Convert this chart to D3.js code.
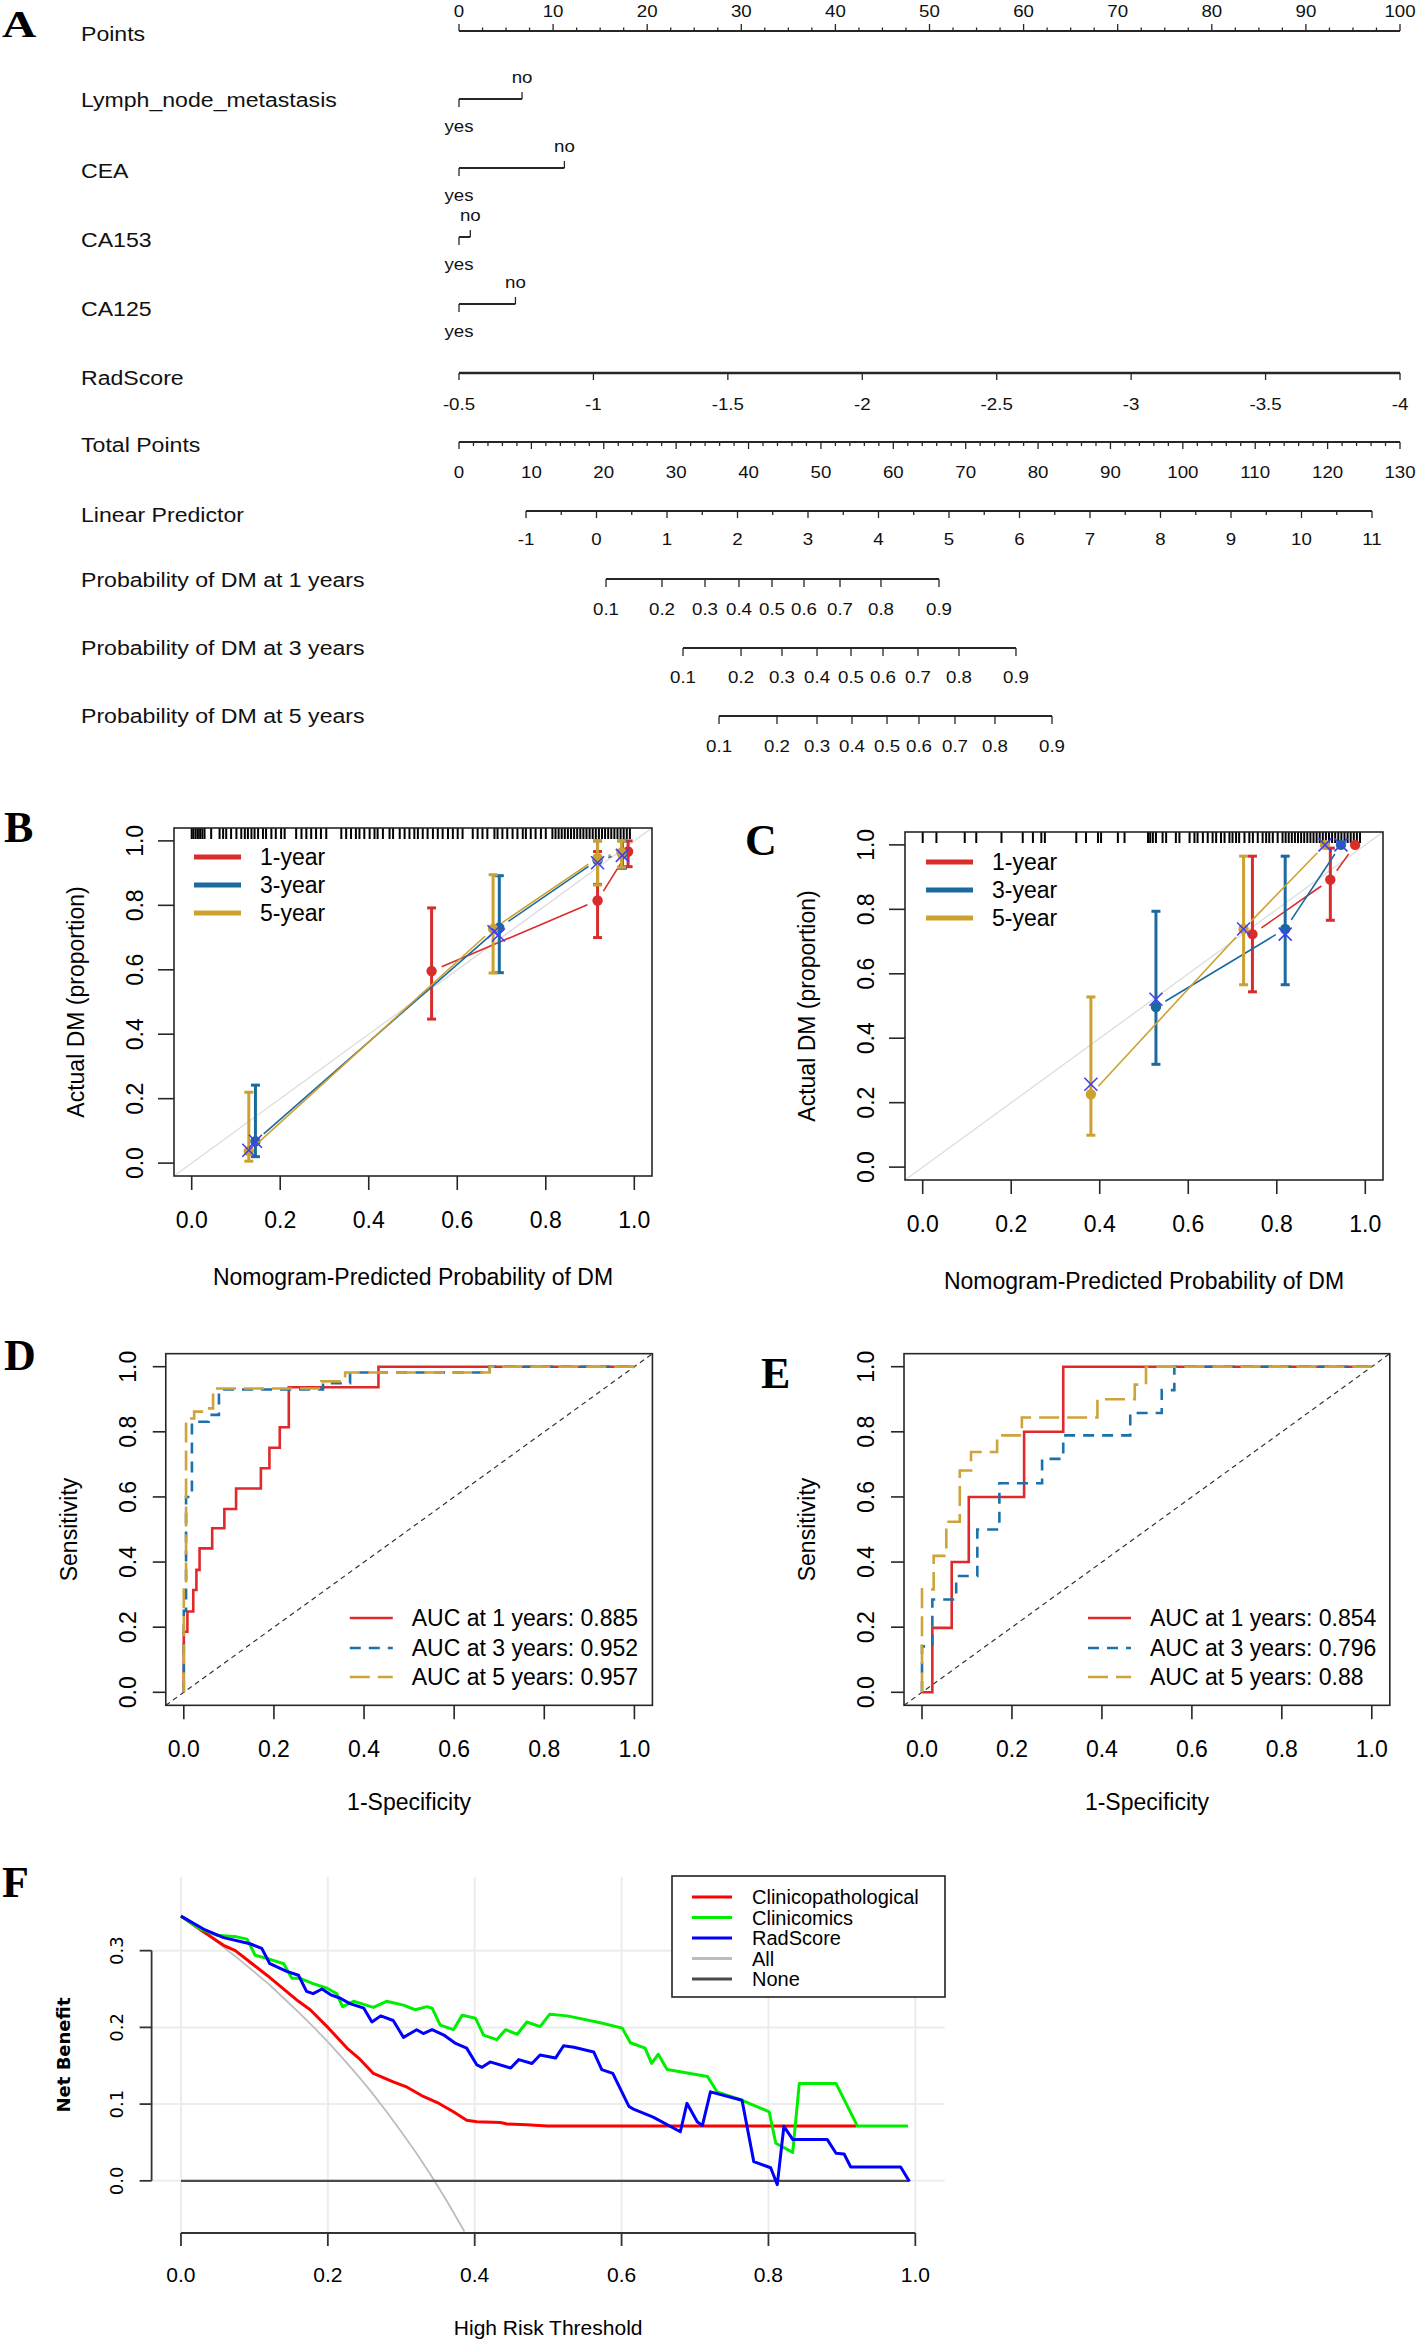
<!DOCTYPE html>
<html><head><meta charset="utf-8">
<script src="https://cdn.jsdelivr.net/npm/d3@7"></script>
<style>body{margin:0;background:#fff}svg{display:block}</style>
</head><body>
<svg id="fig" width="1416" height="2344"></svg>
<script>
// ===================== DATA =====================
// Panel A: nomogram
const nomoRowLabels = ["Points","Lymph_node_metastasis","CEA","CA153","CA125","RadScore","Total Points","Linear Predictor","Probability of DM at 1 years","Probability of DM at 3 years","Probability of DM at 5 years"];
const nomoCatVars = ["Lymph_node_metastasis","CEA","CA153","CA125"];
const nomoCatNoPoints = [6.7, 11.2, 1.2, 6.0];   // points for level "no" (level "yes" = 0)
const nomoLevels = ["yes","no"];
const pointsTicks = [0,10,20,30,40,50,60,70,80,90,100];
const radScoreTicks = [-0.5,-1,-1.5,-2,-2.5,-3,-3.5,-4];
const radScoreTickLabels = ["-0.5","-1","-1.5","-2","-2.5","-3","-3.5","-4"];
const totalPointsTicks = [0,10,20,30,40,50,60,70,80,90,100,110,120,130];
const lpTicks = [-1,0,1,2,3,4,5,6,7,8,9,10,11];
const probTicks = [0.1,0.2,0.3,0.4,0.5,0.6,0.7,0.8,0.9];
// linear-predictor position of each probability tick
const prob1yLP = [0.135,0.929,1.539,2.021,2.489,2.943,3.454,4.035,4.858];
const prob3yLP = [1.227,2.050,2.631,3.128,3.610,4.064,4.560,5.142,5.950];
const prob5yLP = [1.738,2.560,3.128,3.624,4.121,4.574,5.085,5.652,6.461];

// Panels B, C: calibration  rows = [predicted, observed, lower, upper]
const calLegend = ["1-year","3-year","5-year"];
const calB_1y = [[0.542,0.596,0.447,0.792],[0.917,0.815,0.700,0.967],[0.986,0.967,0.920,1.0]];
const calB_3y = [[0.144,0.068,0.020,0.242],[0.695,0.731,0.591,0.892],[0.917,0.940,0.865,1.0],[0.973,0.960,0.915,1.0]];
const calB_5y = [[0.129,0.037,0.006,0.220],[0.681,0.727,0.590,0.895],[0.917,0.947,0.863,1.0],[0.971,0.964,0.918,1.0]];
const calB_corrected = [[0.129,0.040],[0.144,0.068],[0.683,0.718],[0.693,0.708],[0.917,0.932],[0.973,0.955]];
const calB_rug = [0.0,0.004,0.009,0.014,0.019,0.024,0.029,0.044,0.063,0.071,0.078,0.089,0.101,0.112,0.12,0.127,0.135,0.142,0.150,0.161,0.168,0.180,0.190,0.202,0.21,0.236,0.248,0.259,0.270,0.281,0.292,0.304,0.338,0.349,0.36,0.371,0.379,0.390,0.402,0.413,0.42,0.432,0.447,0.455,0.47,0.481,0.492,0.503,0.511,0.522,0.533,0.545,0.556,0.567,0.579,0.590,0.601,0.612,0.635,0.646,0.657,0.668,0.684,0.691,0.702,0.713,0.725,0.736,0.748,0.755,0.766,0.777,0.789,0.800,0.815,0.822,0.829,0.836,0.843,0.850,0.857,0.864,0.871,0.878,0.885,0.892,0.899,0.906,0.913,0.920,0.927,0.934,0.941,0.948,0.955,0.962,0.969,0.976,0.983,0.990];

const calC_1y = [[0.745,0.723,0.544,0.965],[0.921,0.892,0.766,0.99],[0.977,1.0,null,null]];
const calC_3y = [[0.527,0.497,0.319,0.794],[0.819,0.739,0.566,0.965],[0.945,1.0,null,null]];
const calC_5y = [[0.380,0.226,0.099,0.528],[0.725,0.739,0.566,0.965],[0.909,1.0,null,null]];
const calC_corrected = [[0.380,0.257],[0.527,0.521],[0.725,0.739],[0.819,0.723],[0.909,1.0],[0.945,1.0]];
const calC_rug = [0.0,0.031,0.095,0.121,0.178,0.226,0.249,0.268,0.276,0.347,0.369,0.396,0.403,0.441,0.456,0.509,0.514,0.520,0.527,0.542,0.550,0.572,0.580,0.603,0.614,0.621,0.633,0.644,0.655,0.663,0.674,0.682,0.693,0.700,0.708,0.715,0.727,0.738,0.746,0.757,0.768,0.776,0.783,0.791,0.802,0.813,0.820,0.827,0.834,0.841,0.848,0.855,0.862,0.869,0.876,0.883,0.890,0.897,0.904,0.911,0.918,0.925,0.932,0.939,0.946,0.953,0.960,0.967,0.974,0.981,0.988];
const unitTicks = [0,0.2,0.4,0.6,0.8,1.0];
const unitTickLabels = ["0.0","0.2","0.4","0.6","0.8","1.0"];

// Panels D, E: time-dependent ROC (vertices [FPR, TPR], vertical-then-horizontal steps)
const rocD_labels = ["AUC at 1 years: 0.885","AUC at 3 years: 0.952","AUC at 5 years: 0.957"];
const rocD_1y = [[0,0],[0.008,0.186],[0.021,0.248],[0.028,0.314],[0.035,0.376],[0.063,0.442],[0.090,0.504],[0.116,0.563],[0.171,0.626],[0.190,0.688],[0.213,0.751],[0.233,0.814],[0.432,0.937],[1,1]];
const rocD_3y = [[0,0],[0.005,0.25],[0.018,0.60],[0.055,0.831],[0.078,0.852],[0.309,0.930],[0.369,0.949],[0.679,0.982],[1,1]];
const rocD_5y = [[0,0],[0.005,0.33],[0.023,0.841],[0.048,0.862],[0.065,0.872],[0.305,0.933],[0.358,0.955],[0.679,0.982],[1,1]];
const rocE_labels = ["AUC at 1 years: 0.854","AUC at 3 years: 0.796","AUC at 5 years: 0.88"];
const rocE_1y = [[0,0],[0.023,0],[0.066,0.198],[0.104,0.40],[0.227,0.60],[0.314,0.80],[1,1]];
const rocE_3y = [[0,0],[0.023,0.141],[0.076,0.285],[0.123,0.357],[0.172,0.50],[0.267,0.642],[0.314,0.717],[0.463,0.789],[0.533,0.858],[0.561,0.928],[1,1]];
const rocE_5y = [[0,0],[0.026,0.316],[0.054,0.419],[0.084,0.524],[0.109,0.681],[0.167,0.738],[0.222,0.789],[0.39,0.844],[0.473,0.90],[0.498,0.945],[1,1]];

// Panel F: decision curves
const dcaLegend = ["Clinicopathological","Clinicomics","RadScore","All","None"];
const dcaClin_t  = [0,0.027,0.058,0.074,0.117,0.160,0.176,0.201,0.226,0.242,0.262,0.289,0.308,0.330,0.349,0.371,0.389,0.403,0.435,0.444,0.471,0.499,0.92];
const dcaClin_nb = [0.345,0.327,0.307,0.300,0.268,0.234,0.223,0.199,0.173,0.160,0.140,0.129,0.122,0.110,0.102,0.090,0.079,0.077,0.076,0.074,0.073,0.0716,0.0716];
const dcaComb_t  = [0,0.027,0.049,0.076,0.090,0.101,0.117,0.140,0.151,0.162,0.180,0.199,0.212,0.220,0.235,0.249,0.262,0.280,0.303,0.319,0.335,0.342,0.353,0.371,0.383,0.401,0.412,0.430,0.442,0.458,0.471,0.489,0.502,0.526,0.571,0.601,0.612,0.632,0.641,0.650,0.662,0.717,0.730,0.764,0.801,0.810,0.833,0.842,0.892,0.921,0.99];
const dcaComb_nb = [0.345,0.328,0.320,0.318,0.315,0.294,0.290,0.283,0.264,0.264,0.257,0.251,0.244,0.227,0.234,0.230,0.226,0.234,0.229,0.223,0.227,0.225,0.203,0.197,0.216,0.212,0.190,0.184,0.197,0.191,0.207,0.201,0.217,0.215,0.206,0.199,0.180,0.173,0.153,0.165,0.145,0.136,0.116,0.105,0.090,0.049,0.037,0.127,0.127,0.0716,0.0716];
const dcaRad_t  = [0,0.033,0.058,0.094,0.110,0.121,0.144,0.160,0.171,0.180,0.192,0.205,0.217,0.230,0.249,0.260,0.272,0.289,0.303,0.321,0.330,0.342,0.358,0.374,0.389,0.403,0.410,0.421,0.449,0.460,0.478,0.489,0.510,0.521,0.535,0.562,0.573,0.588,0.610,0.617,0.643,0.680,0.689,0.703,0.710,0.721,0.764,0.780,0.803,0.812,0.821,0.833,0.880,0.892,0.903,0.912,0.980,0.992];
const dcaRad_nb = [0.345,0.327,0.317,0.309,0.303,0.283,0.273,0.268,0.247,0.244,0.250,0.242,0.238,0.231,0.225,0.207,0.215,0.209,0.187,0.197,0.192,0.197,0.190,0.179,0.173,0.151,0.148,0.155,0.147,0.158,0.153,0.164,0.160,0.176,0.174,0.168,0.145,0.140,0.097,0.093,0.083,0.064,0.101,0.077,0.072,0.116,0.105,0.025,0.017,-0.005,0.071,0.054,0.054,0.036,0.035,0.018,0.018,-0.001];
const dcaAll_t  = [0,0.02,0.04,0.06,0.08,0.10,0.12,0.14,0.16,0.18,0.20,0.22,0.24,0.26,0.28,0.30,0.32,0.34,0.36,0.38,0.386];
const dcaAll_nb = [0.345,0.332,0.318,0.303,0.288,0.272,0.256,0.238,0.220,0.201,0.181,0.160,0.138,0.115,0.090,0.064,0.037,0.008,-0.023,-0.056,-0.066];
const dcaNone_t  = [0,0.99];
const dcaNone_nb = [0,0];
const dcaXTicks = [0,0.2,0.4,0.6,0.8,1.0];
const dcaXTickLabels = ["0.0","0.2","0.4","0.6","0.8","1.0"];
const dcaYTicks = [0,0.1,0.2,0.3];
const dcaYTickLabels = ["0.0","0.1","0.2","0.3"];

// ===================== DRAWING =====================
const SANS = "'Liberation Sans', Arial, Helvetica, sans-serif";
const SERIF = "'Liberation Serif', 'Times New Roman', serif";
const svg = d3.select("#fig").attr("font-family", SANS);
svg.append("rect").attr("width",1416).attr("height",2344).attr("fill","#fff");
const INK = "#262626";

function panelLetter(s, x, y, size, sx) {
  svg.append("text").attr("transform", `translate(${x},${y}) scale(${sx||1},1)`)
    .attr("font-family", SERIF).attr("font-weight","bold").attr("font-size", size).text(s);
}
panelLetter("A", 2, 37, 38, 1.25);
panelLetter("B", 4, 842, 44);
panelLetter("C", 745, 855, 44);
panelLetter("D", 4, 1370, 44);
panelLetter("E", 761, 1388, 44);
panelLetter("F", 2, 1897, 44);

// ---------- Panel A ----------
(function nomogram(){
  const g = svg.append("g");
  const SX = 1.1;
  const t = (x, y, s, size, anchor) => g.append("text")
    .attr("transform", `translate(${x},${y}) scale(${SX},1)`)
    .attr("text-anchor", anchor || "middle").attr("font-size", size).attr("fill","#111").text(s);
  const hline = (x1, x2, y, w) => g.append("line").attr("x1",x1).attr("x2",x2).attr("y1",y).attr("y2",y).attr("stroke",INK).attr("stroke-width",w||1.6);
  const vline = (x, y1, y2) => g.append("line").attr("x1",x).attr("x2",x).attr("y1",y1).attr("y2",y2).attr("stroke",INK).attr("stroke-width",1.3);

  const rowBase = [41,107,178,247,316,385,452,522,587,655,723];
  nomoRowLabels.forEach((s,i) => t(81, rowBase[i], s, 21, "start"));

  const pts = d3.scaleLinear().domain([0,100]).range([459,1400]);
  const rad = d3.scaleLinear().domain([-0.5,-4]).range([459,1400]);
  const tot = d3.scaleLinear().domain([0,130]).range([459,1400]);
  const lp  = d3.scaleLinear().domain([-1,11]).range([526,1372]);

  // Points
  hline(pts(0), pts(100), 31, 2);
  d3.range(0,100.01,2.5).forEach(v => vline(pts(v), 31, v % 10 === 0 ? 24 : 27.5));
  pointsTicks.forEach(v => t(pts(v), 17, String(v), 17));

  // categorical predictors
  const catLine = [99,168,237,304];
  nomoCatVars.forEach((name,i) => {
    const y = catLine[i], x0 = pts(0), x1 = pts(nomoCatNoPoints[i]);
    hline(x0, x1, y, 2);
    vline(x0, y, y + 8);
    vline(x1, y, y - 7);
    t(x1, y - 16, nomoLevels[1], 17);
    t(x0, y + 33, nomoLevels[0], 17);
  });

  // RadScore
  hline(rad(-0.5), rad(-4), 373, 2.4);
  radScoreTicks.forEach((v,i) => { vline(rad(v), 373, 380); t(rad(v), 410, radScoreTickLabels[i], 17); });

  // Total points
  hline(tot(0), tot(130), 442, 2);
  d3.range(0,130.01,2).forEach(v => vline(tot(v), 442, v % 10 === 0 ? 449 : 446));
  totalPointsTicks.forEach(v => t(tot(v), 478, String(v), 17));

  // Linear predictor
  hline(lp(-1), lp(11), 511, 2);
  d3.range(-1,11.01,0.5).forEach(v => vline(lp(v), 511, Number.isInteger(v) ? 518 : 515));
  lpTicks.forEach(v => t(lp(v), 545, String(v), 17));

  // Probability axes
  [[prob1yLP,579,615],[prob3yLP,648,683],[prob5yLP,716,752]].forEach(([arr,y,yl]) => {
    hline(lp(arr[0]), lp(arr[arr.length-1]), y, 2);
    arr.forEach((v,i) => { vline(lp(v), y, y + 8); t(lp(v), yl, String(probTicks[i]), 17); });
  });
})();

// ---------- Panels B, C ----------
const calColors = ["#D82D2B","#1A6AA0","#CDA12F"];
function calibration(cfg) {
  const g = svg.append("g");
  const x = d3.scaleLinear().domain([-0.04,1.04]).range([cfg.left, cfg.right]);
  const y = d3.scaleLinear().domain([-0.04,1.04]).range([cfg.bottom, cfg.top]);
  const cid = "clip" + cfg.id;
  g.append("clipPath").attr("id", cid).append("rect")
    .attr("x", cfg.left).attr("y", cfg.top).attr("width", cfg.right - cfg.left).attr("height", cfg.bottom - cfg.top);
  g.append("line").attr("clip-path", `url(#${cid})`)
    .attr("x1", x(-0.04)).attr("y1", y(-0.04)).attr("x2", x(1.04)).attr("y2", y(1.04))
    .attr("stroke", "#dcdcdc").attr("stroke-width", 1.3);
  g.selectAll(".rug").data(cfg.rug).join("line")
    .attr("x1", d => x(d)).attr("x2", d => x(d)).attr("y1", cfg.top).attr("y2", cfg.top + 11)
    .attr("stroke", "#000").attr("stroke-width", 2);

  cfg.series.forEach((s, i) => {
    const col = calColors[i];
    for (let k = 0; k < s.length - 1; k++) {
      const x1 = x(s[k][0]), y1 = y(s[k][1]), x2 = x(s[k+1][0]), y2 = y(s[k+1][1]);
      const L = Math.hypot(x2 - x1, y2 - y1), gap = 11;
      if (L > 2 * gap) {
        const ux = (x2 - x1) / L, uy = (y2 - y1) / L;
        g.append("line").attr("x1", x1 + ux*gap).attr("y1", y1 + uy*gap)
          .attr("x2", x2 - ux*gap).attr("y2", y2 - uy*gap)
          .attr("stroke", col).attr("stroke-width", 1.6);
      }
    }
    s.filter(d => d[2] != null).forEach(d => {
      const cx = x(d[0]);
      g.append("line").attr("x1", cx).attr("x2", cx).attr("y1", y(d[2])).attr("y2", y(d[3])).attr("stroke", col).attr("stroke-width", 3);
      [d[2], d[3]].forEach(v => g.append("line").attr("x1", cx - 4.5).attr("x2", cx + 4.5).attr("y1", y(v)).attr("y2", y(v)).attr("stroke", col).attr("stroke-width", 3));
    });
    g.selectAll(null).data(s).join("circle")
      .attr("cx", d => x(d[0])).attr("cy", d => y(d[1])).attr("r", 5.2).attr("fill", col);
  });
  cfg.corrected.forEach(d => {
    const cx = x(d[0]), cy = y(d[1]), h = 6.5;
    g.append("path").attr("d", `M${cx-h},${cy-h}L${cx+h},${cy+h}M${cx-h},${cy+h}L${cx+h},${cy-h}`)
      .attr("stroke", "#4040f0").attr("stroke-width", 1.6).attr("fill", "none");
  });
  g.append("rect").attr("x", cfg.left).attr("y", cfg.top).attr("width", cfg.right - cfg.left).attr("height", cfg.bottom - cfg.top)
    .attr("fill", "none").attr("stroke", INK).attr("stroke-width", 1.6);
  // axes
  unitTicks.forEach((v, i) => {
    g.append("line").attr("x1", x(v)).attr("x2", x(v)).attr("y1", cfg.bottom).attr("y2", cfg.bottom + 14).attr("stroke", INK).attr("stroke-width", 1.6);
    g.append("text").attr("x", x(v)).attr("y", cfg.bottom + 52).attr("text-anchor", "middle").attr("font-size", 23).text(unitTickLabels[i]);
    g.append("line").attr("y1", y(v)).attr("y2", y(v)).attr("x1", cfg.left).attr("x2", cfg.left - 16).attr("stroke", INK).attr("stroke-width", 1.6);
    g.append("text").attr("transform", `translate(${cfg.left - 31},${y(v)}) rotate(-90)`).attr("text-anchor", "middle").attr("font-size", 23).text(unitTickLabels[i]);
  });
  g.append("text").attr("transform", `translate(${cfg.left - 90},${(cfg.top + cfg.bottom)/2}) rotate(-90)`)
    .attr("text-anchor", "middle").attr("font-size", 23).text("Actual DM (proportion)");
  g.append("text").attr("x", (cfg.left + cfg.right)/2).attr("y", cfg.bottom + 109)
    .attr("text-anchor", "middle").attr("font-size", 23).text("Nomogram-Predicted Probability of DM");
  // legend
  calLegend.forEach((s, i) => {
    const ly = cfg.legY + i * 28;
    g.append("line").attr("x1", cfg.legX).attr("x2", cfg.legX + 47).attr("y1", ly).attr("y2", ly).attr("stroke", calColors[i]).attr("stroke-width", 5);
    g.append("text").attr("x", cfg.legX + 66).attr("y", ly + 8).attr("font-size", 23).text(s);
  });
}
calibration({id:"B", left:174, right:652, top:828, bottom:1176, series:[calB_1y, calB_3y, calB_5y], corrected:calB_corrected, rug:calB_rug, legX:194, legY:857});
calibration({id:"C", left:905, right:1383, top:832, bottom:1180, series:[calC_1y, calC_3y, calC_5y], corrected:calC_corrected, rug:calC_rug, legX:926, legY:862});

// ---------- Panels D, E ----------
const rocColors = ["#E0292B","#1C71AA","#CDA33A"];
const rocDash = [null, "11,8", "20,8"];
function rocPanel(cfg) {
  const g = svg.append("g");
  const x = d3.scaleLinear().domain([-0.04,1.04]).range([cfg.x0 - 0.04*cfg.w, cfg.x0 + 1.04*cfg.w]);
  const y = d3.scaleLinear().domain([-0.04,1.04]).range([1692.3 + 0.04*325.6, 1692.3 - 1.04*325.6]);
  const L = x(-0.04), R = x(1.04), T = y(1.04), B = y(-0.04);
  g.append("line").attr("x1", L).attr("y1", B).attr("x2", R).attr("y2", T)
    .attr("stroke", "#333").attr("stroke-width", 1.2).attr("stroke-dasharray", "5,4");
  const line = d3.line().x(d => x(d[0])).y(d => y(d[1])).curve(d3.curveStepBefore);
  cfg.curves.forEach((c, i) => {
    g.append("path").attr("d", line(c)).attr("fill", "none").attr("stroke", rocColors[i])
      .attr("stroke-width", 2.6).attr("stroke-dasharray", rocDash[i]);
  });
  g.append("rect").attr("x", L).attr("y", T).attr("width", R - L).attr("height", B - T)
    .attr("fill", "none").attr("stroke", INK).attr("stroke-width", 1.6);
  unitTicks.forEach((v, i) => {
    g.append("line").attr("x1", x(v)).attr("x2", x(v)).attr("y1", B).attr("y2", B + 14).attr("stroke", INK).attr("stroke-width", 1.6);
    g.append("text").attr("x", x(v)).attr("y", B + 52).attr("text-anchor", "middle").attr("font-size", 23).text(unitTickLabels[i]);
    g.append("line").attr("y1", y(v)).attr("y2", y(v)).attr("x1", L).attr("x2", L - 13).attr("stroke", INK).attr("stroke-width", 1.6);
    g.append("text").attr("transform", `translate(${L - 30},${y(v)}) rotate(-90)`).attr("text-anchor", "middle").attr("font-size", 23).text(unitTickLabels[i]);
  });
  g.append("text").attr("transform", `translate(${L - 89},${(T + B)/2}) rotate(-90)`)
    .attr("text-anchor", "middle").attr("font-size", 23).text("Sensitivity");
  g.append("text").attr("x", (L + R)/2).attr("y", B + 105).attr("text-anchor", "middle").attr("font-size", 23).text("1-Specificity");
  cfg.labels.forEach((s, i) => {
    const ly = [1618, 1648, 1677][i];
    g.append("line").attr("x1", L + 184).attr("x2", L + 227).attr("y1", ly).attr("y2", ly)
      .attr("stroke", rocColors[i]).attr("stroke-width", 2.6).attr("stroke-dasharray", rocDash[i]);
    g.append("text").attr("x", L + 246).attr("y", ly + 8).attr("font-size", 23).text(s);
  });
}
rocPanel({x0:183.8, w:450.6, curves:[rocD_1y, rocD_3y, rocD_5y], labels:rocD_labels});
rocPanel({x0:922, w:449.8, curves:[rocE_1y, rocE_3y, rocE_5y], labels:rocE_labels});

// ---------- Panel F ----------
(function dca(){
  const g = svg.append("g");
  const x = d3.scaleLinear().domain([-0.04,1.04]).range([151.6, 944.7]);
  const y = d3.scaleLinear().domain([-0.068,0.396]).range([2233, 1877]);
  const L = 151.6, R = 944.7, T = 1877, B = 2233;
  dcaXTicks.forEach(v => g.append("line").attr("x1", x(v)).attr("x2", x(v)).attr("y1", T).attr("y2", B).attr("stroke", "#ececec").attr("stroke-width", 2));
  dcaYTicks.forEach(v => g.append("line").attr("x1", L).attr("x2", R).attr("y1", y(v)).attr("y2", y(v)).attr("stroke", "#ececec").attr("stroke-width", 2));
  const cid = "clipF";
  g.append("clipPath").attr("id", cid).append("rect").attr("x", L).attr("y", T).attr("width", R - L).attr("height", B - T);
  const line = d3.line().x(d => x(d[0])).y(d => y(d[1]));
  const zip = (a, b) => a.map((v, i) => [v, b[i]]);
  const series = [
    [zip(dcaAll_t, dcaAll_nb), "#bdbdbd", 1.8],
    [zip(dcaNone_t, dcaNone_nb), "#4a4a4a", 2.4],
    [zip(dcaClin_t, dcaClin_nb), "#ff0000", 3],
    [zip(dcaComb_t, dcaComb_nb), "#00ee00", 3],
    [zip(dcaRad_t, dcaRad_nb), "#0000ff", 3]
  ];
  series.forEach(([d, c, w]) => g.append("path").attr("clip-path", `url(#${cid})`).attr("d", line(d))
    .attr("fill", "none").attr("stroke", c).attr("stroke-width", w).attr("stroke-linejoin", "round"));
  // axes
  g.append("line").attr("x1", L).attr("x2", L).attr("y1", y(0)).attr("y2", y(0.3)).attr("stroke", "#333").attr("stroke-width", 1.8);
  dcaYTicks.forEach((v, i) => {
    g.append("line").attr("x1", L).attr("x2", L - 12).attr("y1", y(v)).attr("y2", y(v)).attr("stroke", "#333").attr("stroke-width", 1.8);
    g.append("text").attr("transform", `translate(123,${y(v)}) rotate(-90)`).attr("text-anchor", "middle")
      .attr("font-family", "'DejaVu Sans', Verdana, sans-serif").attr("font-size", 18).text(dcaYTickLabels[i]);
  });
  g.append("line").attr("x1", x(0)).attr("x2", x(1)).attr("y1", B).attr("y2", B).attr("stroke", "#333").attr("stroke-width", 1.8);
  dcaXTicks.forEach((v, i) => {
    g.append("line").attr("x1", x(v)).attr("x2", x(v)).attr("y1", B).attr("y2", B + 13).attr("stroke", "#333").attr("stroke-width", 1.8);
    g.append("text").attr("x", x(v)).attr("y", 2282).attr("text-anchor", "middle").attr("font-size", 21).text(dcaXTickLabels[i]);
  });
  g.append("text").attr("transform", `translate(70,${(T + B)/2}) rotate(-90)`).attr("text-anchor", "middle")
    .attr("font-family", "'DejaVu Sans', Verdana, sans-serif").attr("font-weight", "bold").attr("font-size", 18).text("Net Benefit");
  g.append("text").attr("x", (L + R)/2).attr("y", 2335).attr("text-anchor", "middle").attr("font-size", 21).text("High Risk Threshold");
  // legend
  g.append("rect").attr("x", 672).attr("y", 1876).attr("width", 273).attr("height", 121)
    .attr("fill", "#fff").attr("stroke", "#222").attr("stroke-width", 1.6);
  const legCols = ["#ff0000","#00ee00","#0000ff","#bdbdbd","#4a4a4a"];
  dcaLegend.forEach((s, i) => {
    const ly = 1897 + i * 20.5;
    g.append("line").attr("x1", 692).attr("x2", 732).attr("y1", ly).attr("y2", ly).attr("stroke", legCols[i]).attr("stroke-width", 3);
    g.append("text").attr("x", 752).attr("y", ly + 7).attr("font-size", 20).text(s);
  });
})();
</script>
</body></html>
